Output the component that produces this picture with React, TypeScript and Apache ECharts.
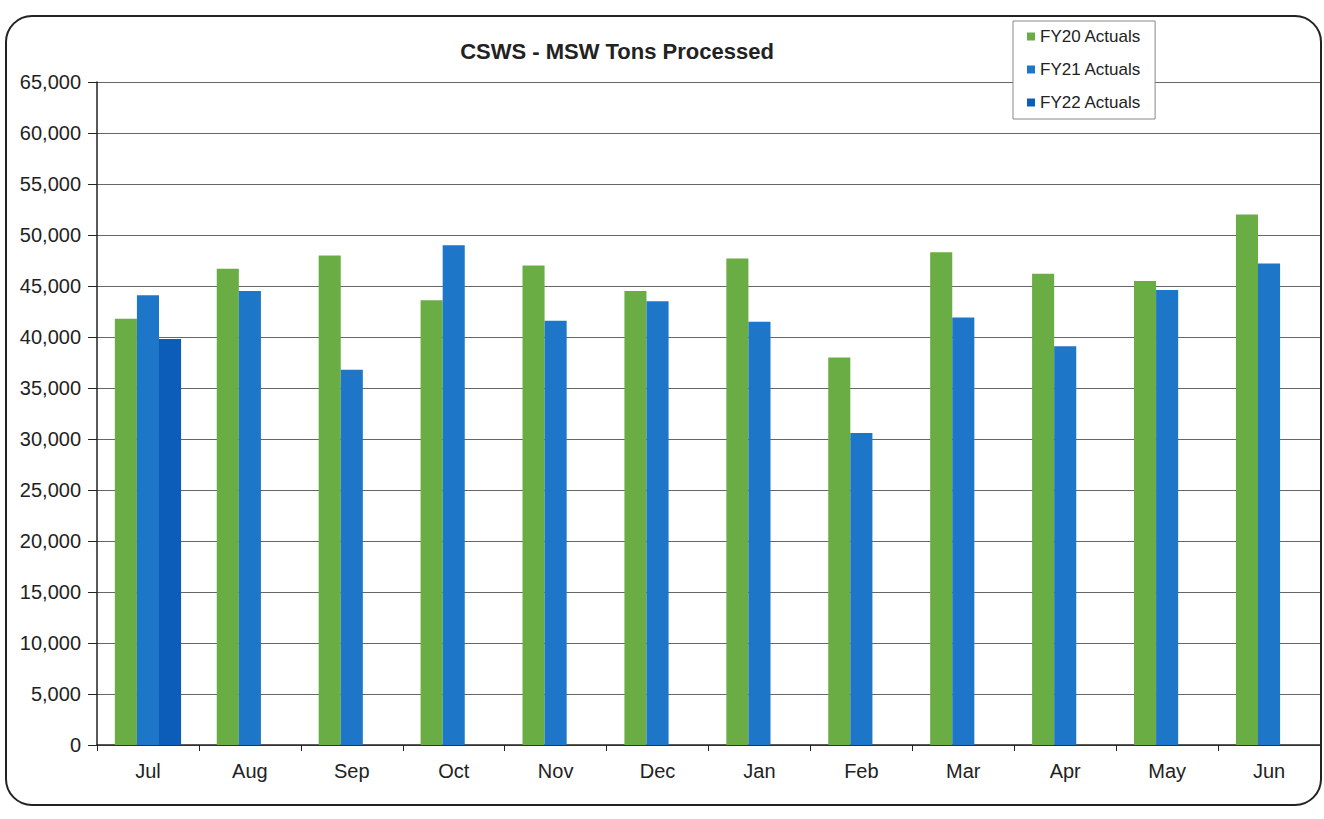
import React, { useEffect, useRef } from "react";
import * as echarts from "echarts";

const title = "CSWS - MSW Tons Processed";
const months = ["Jul", "Aug", "Sep", "Oct", "Nov", "Dec", "Jan", "Feb", "Mar", "Apr", "May", "Jun"];
const seriesNames = ["FY20 Actuals", "FY21 Actuals", "FY22 Actuals"];
const fy20 = [41800, 46700, 48000, 43600, 47000, 44500, 47700, 38000, 48300, 46200, 45500, 52000];
const fy21 = [44100, 44500, 36800, 49000, 41600, 43500, 41500, 30600, 41900, 39100, 44600, 47200];
const fy22 = [39800, null, null, null, null, null, null, null, null, null, null, null];
const colors = ["#6BAD45", "#1D76C7", "#0C5DBA"];
const yMin = 0;
const yMax = 65000;
const yStep = 5000;

export default function App() {
  const ref = useRef<HTMLDivElement>(null);
  useEffect(() => {
    if (!ref.current) return;
    const chart = echarts.init(ref.current, undefined, { renderer: "svg" });
    const font = "Arial, 'Liberation Sans', sans-serif";
    const data = [fy20, fy21, fy22];
    chart.setOption({
      animation: false,
      backgroundColor: "#ffffff",
      textStyle: { fontFamily: font },
      title: {
        text: title,
        left: 612,
        top: 35,
        textAlign: "center",
        textStyle: { fontSize: 22, fontWeight: "bold", color: "#222", fontFamily: font },
      },
      graphic: [
        {
          type: "rect",
          shape: { x: 6, y: 16, width: 1315, height: 789, r: 26 },
          style: { fill: "none", stroke: "#222", lineWidth: 2 },
          z: 100,
          silent: true,
        },
      ],
      legend: {
        orient: "vertical",
        left: 1013,
        top: 21,
        data: seriesNames,
        icon: "rect",
        itemWidth: 8,
        itemHeight: 8,
        itemGap: 16,
        itemStyle: { borderWidth: 0 },
        padding: [7, 14, 8, 14],
        backgroundColor: "#ffffff",
        borderColor: "#888",
        borderWidth: 1,
        textStyle: { fontSize: 17, lineHeight: 17, color: "#222", fontFamily: font },
        z: 10,
      },
      grid: { left: 97, right: 4, top: 82, bottom: 74, containLabel: false },
      xAxis: {
        type: "category",
        data: months,
        axisLine: { lineStyle: { color: "#222", width: 1.5 } },
        axisTick: { show: true, alignWithLabel: false, length: 6, lineStyle: { color: "#222" } },
        axisLabel: { fontSize: 20, color: "#222", margin: 16, fontFamily: font },
      },
      yAxis: {
        type: "value",
        min: yMin,
        max: yMax,
        interval: yStep,
        axisLine: { show: true, lineStyle: { color: "#222", width: 1.5 } },
        axisTick: { show: true, length: 9, lineStyle: { color: "#222" } },
        axisLabel: {
          fontSize: 20,
          color: "#222",
          margin: 16,
          fontFamily: font,
          formatter: (v: number) => v.toLocaleString("en-US"),
        },
        splitLine: { show: true, lineStyle: { color: "#666", width: 1 } },
      },
      series: seriesNames.map((name, i) => ({
        name,
        type: "bar",
        data: data[i],
        barGap: "0%",
        barCategoryGap: "35%",
        itemStyle: { color: colors[i] },
      })),
    });
    return () => chart.dispose();
  }, []);
  return (
    <div
      ref={ref}
      style={{ position: "absolute", left: 0, top: 0, width: 1324, height: 819 }}
    />
  );
}
